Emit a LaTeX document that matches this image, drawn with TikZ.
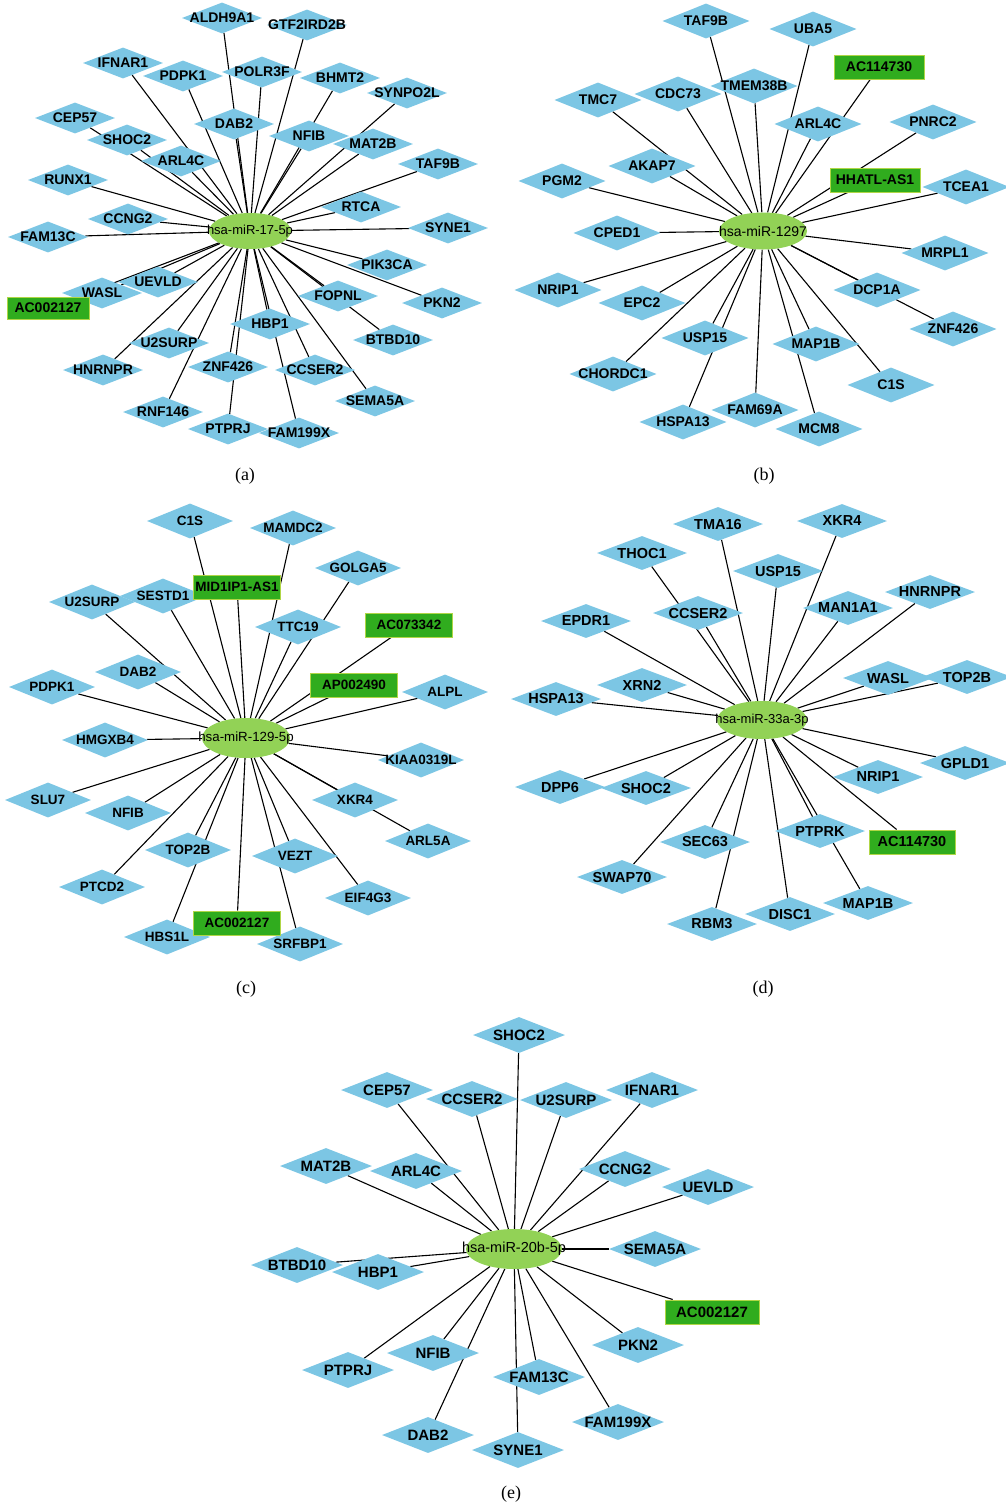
\documentclass[tikz,border=0pt]{standalone}
\usepackage{fontspec}
\setmainfont{Liberation Serif}
\setsansfont{Liberation Sans}
\usepackage{xcolor}
\usepackage{tikz}
\definecolor{genefill}{RGB}{124,198,228}
\definecolor{mirfill}{RGB}{146,210,86}
\definecolor{lncfill}{RGB}{48,172,30}
\definecolor{lncline}{RGB}{176,214,70}
\usetikzlibrary{shapes.geometric, backgrounds}

\begin{document}
\begin{tikzpicture}[
  x=1pt, y=-1pt,
  gene/.style={diamond, fill=genefill, inner sep=0pt, minimum width=80pt, minimum height=31pt,
    font=\sffamily\bfseries\fontsize{14}{14}\selectfont,
    execute at begin node={\hbox to 0pt\bgroup\hss}, execute at end node={\hss\egroup}},
  lnc/.style={rectangle, fill=lncfill, draw=lncline, line width=1pt, minimum width=82pt, minimum height=22pt,
    inner sep=1pt, font=\sffamily\bfseries\fontsize{14}{14}\selectfont},
  mir/.style={ellipse, fill=mirfill, inner sep=0pt, minimum width=82pt, minimum height=36pt,
    font=\sffamily\fontsize{13}{13}\selectfont,
    execute at begin node={\hbox to 0pt\bgroup\hss}, execute at end node={\hss\egroup}},
  link/.style={draw=black, line width=1.1pt},
  panellabel/.style={font=\rmfamily\fontsize{18}{18}\selectfont}
]
  \useasboundingbox (0,0) rectangle (1006,1508);

  % Panel (a): hsa-miR-17-5p
  \node[mir] (a-mir) at (250,231) {hsa-miR-17-5p};
  \node[gene] (a-aldh9a1)  at (222,18)  {ALDH9A1};
  \node[gene] (a-gtf2ird2b) at (307,25) {GTF2IRD2B};
  \node[gene] (a-ifnar1)   at (123,63)  {IFNAR1};
  \node[gene] (a-pdpk1)    at (183,76)  {PDPK1};
  \node[gene] (a-polr3f)   at (262,72)  {POLR3F};
  \node[gene] (a-bhmt2)    at (340,78)  {BHMT2};
  \node[gene] (a-synpo2l)  at (407,93)  {SYNPO2L};
  \node[gene] (a-cep57)    at (75,118)  {CEP57};
  \node[gene] (a-dab2)     at (234,124) {DAB2};
  \node[gene] (a-nfib)     at (309,136) {NFIB};
  \node[gene] (a-shoc2)    at (127,140) {SHOC2};
  \node[gene] (a-mat2b)    at (373,144) {MAT2B};
  \node[gene] (a-arl4c)    at (181,161) {ARL4C};
  \node[gene] (a-taf9b)    at (438,164) {TAF9B};
  \node[gene] (a-runx1)    at (68,180)  {RUNX1};
  \node[gene] (a-rtca)     at (361,207) {RTCA};
  \node[gene] (a-ccng2)    at (128,219) {CCNG2};
  \node[gene] (a-syne1)    at (448,228) {SYNE1};
  \node[gene] (a-fam13c)   at (48,237)  {FAM13C};
  \node[gene] (a-pik3ca)   at (387,265) {PIK3CA};
  \node[gene] (a-uevld)    at (158,282) {UEVLD};
  \node[gene] (a-wasl)     at (102,293) {WASL};
  \node[gene] (a-fopnl)    at (338,296) {FOPNL};
  \node[gene] (a-pkn2)     at (442,303) {PKN2};
  \node[gene] (a-hbp1)     at (270,324) {HBP1};
  \node[gene] (a-btbd10)   at (393,340) {BTBD10};
  \node[gene] (a-u2surp)   at (169,343) {U2SURP};
  \node[gene] (a-hnrnpr)   at (103,370) {HNRNPR};
  \node[gene] (a-znf426)   at (228,367) {ZNF426};
  \node[gene] (a-ccser2)   at (315,370) {CCSER2};
  \node[gene] (a-sema5a)   at (375,401) {SEMA5A};
  \node[gene] (a-rnf146)   at (163,412) {RNF146};
  \node[gene] (a-ptprj)    at (228,429) {PTPRJ};
  \node[gene] (a-fam199x)  at (299,433) {FAM199X};
  \node[lnc]  (a-ac002127) at (48,308)  {AC002127};
  \node[panellabel] (cap-a) at (245,476) {(a)};

  % Panel (b): hsa-miR-1297
  \begin{scope}[gene/.append style={minimum width=87pt, minimum height=35pt},
                lnc/.append style={minimum width=90pt, minimum height=24pt},
                mir/.append style={minimum width=88pt, minimum height=37pt, font=\sffamily\fontsize{14}{14}\selectfont}]
    \node[mir] (b-mir) at (763,231) {hsa-miR-1297};
    \node[gene] (b-taf9b)   at (706,21)  {TAF9B};
    \node[gene] (b-uba5)    at (813,29)  {UBA5};
    \node[gene] (b-tmem38b) at (754,86)  {TMEM38B};
    \node[gene] (b-cdc73)   at (678,94)  {CDC73};
    \node[gene] (b-tmc7)    at (598,100) {TMC7};
    \node[gene] (b-arl4c)   at (818,124) {ARL4C};
    \node[gene] (b-pnrc2)   at (933,122) {PNRC2};
    \node[gene] (b-akap7)   at (652,166) {AKAP7};
    \node[gene] (b-pgm2)    at (562,181) {PGM2};
    \node[gene] (b-tcea1)   at (966,187) {TCEA1};
    \node[gene] (b-cped1)   at (617,233) {CPED1};
    \node[gene] (b-mrpl1)   at (945,253) {MRPL1};
    \node[gene] (b-nrip1)   at (558,290) {NRIP1};
    \node[gene] (b-dcp1a)   at (877,290) {DCP1A};
    \node[gene] (b-epc2)    at (642,303) {EPC2};
    \node[gene] (b-znf426)  at (953,329) {ZNF426};
    \node[gene] (b-usp15)   at (705,338) {USP15};
    \node[gene] (b-map1b)   at (816,344) {MAP1B};
    \node[gene] (b-chordc1) at (613,374) {CHORDC1};
    \node[gene] (b-c1s)     at (891,385) {C1S};
    \node[gene] (b-fam69a)  at (755,410) {FAM69A};
    \node[gene] (b-hspa13)  at (683,422) {HSPA13};
    \node[gene] (b-mcm8)    at (819,429) {MCM8};
    \node[lnc]  (b-ac114730) at (879,67) {AC114730};
    \node[lnc]  (b-hhatlas1) at (875,180) {HHATL-AS1};
  \end{scope}
  \node[panellabel] (cap-b) at (764,476) {(b)};

  % Panel (c): hsa-miR-129-5p
  \begin{scope}[gene/.append style={minimum width=86pt, minimum height=35pt, font=\sffamily\bfseries\fontsize{13.5}{13.5}\selectfont},
                lnc/.append style={minimum width=87pt, minimum height=24pt, font=\sffamily\bfseries\fontsize{13.5}{13.5}\selectfont},
                mir/.append style={minimum width=88pt, minimum height=40pt, font=\sffamily\fontsize{13.3}{13.3}\selectfont}]
    \node[mir] (c-mir) at (246,738) {hsa-miR-129-5p};
    \node[gene] (c-c1s)       at (190,521) {C1S};
    \node[gene] (c-mamdc2)    at (293,528) {MAMDC2};
    \node[gene] (c-golga5)    at (358,568) {GOLGA5};
    \node[gene] (c-sestd1)    at (163,596) {SESTD1};
    \node[gene] (c-u2surp)    at (92,602)  {U2SURP};
    \node[gene] (c-ttc19)     at (298,627) {TTC19};
    \node[gene] (c-dab2)      at (138,672) {DAB2};
    \node[gene] (c-pdpk1)     at (52,687)  {PDPK1};
    \node[gene] (c-alpl)      at (445,692) {ALPL};
    \node[gene] (c-hmgxb4)    at (105,740) {HMGXB4};
    \node[gene] (c-kiaa0319l) at (421,760) {KIAA0319L};
    \node[gene] (c-slu7)      at (48,800)  {SLU7};
    \node[gene] (c-xkr4)      at (355,800) {XKR4};
    \node[gene] (c-nfib)      at (128,813) {NFIB};
    \node[gene] (c-arl5a)     at (428,841) {ARL5A};
    \node[gene] (c-top2b)     at (188,850) {TOP2B};
    \node[gene] (c-vezt)      at (295,856) {VEZT};
    \node[gene] (c-ptcd2)     at (102,887) {PTCD2};
    \node[gene] (c-eif4g3)    at (368,898) {EIF4G3};
    \node[gene] (c-hbs1l)     at (167,937) {HBS1L};
    \node[gene] (c-srfbp1)    at (300,944) {SRFBP1};
    \node[lnc]  (c-mid1ip1as1) at (237,587) {MID1IP1-AS1};
    \node[lnc]  (c-ac073342)  at (409,625) {AC073342};
    \node[lnc]  (c-ap002490)  at (354,685) {AP002490};
    \node[lnc]  (c-ac002127)  at (237,923) {AC002127};
  \end{scope}
  \node[panellabel] (cap-c) at (246,989) {(c)};

  % Panel (d): hsa-miR-33a-3p
  \begin{scope}[gene/.append style={minimum width=90pt, minimum height=34pt, font=\sffamily\bfseries\fontsize{14.5}{14.5}\selectfont},
                lnc/.append style={minimum width=86pt, minimum height=24pt, font=\sffamily\bfseries\fontsize{14.5}{14.5}\selectfont},
                mir/.append style={minimum width=90pt, minimum height=38pt}]
    \node[mir] (d-mir) at (762,720) {hsa-miR-33a-3p};
    \node[gene] (d-tma16)  at (718,524) {TMA16};
    \node[gene] (d-xkr4)   at (842,521) {XKR4};
    \node[gene] (d-thoc1)  at (642,553) {THOC1};
    \node[gene] (d-usp15)  at (778,571) {USP15};
    \node[gene] (d-hnrnpr) at (930,592) {HNRNPR};
    \node[gene] (d-man1a1) at (848,608) {MAN1A1};
    \node[gene] (d-ccser2) at (698,613) {CCSER2};
    \node[gene] (d-epdr1)  at (586,621) {EPDR1};
    \node[gene] (d-wasl)   at (888,678) {WASL};
    \node[gene] (d-top2b)  at (967,677) {TOP2B};
    \node[gene] (d-xrn2)   at (642,685) {XRN2};
    \node[gene] (d-hspa13) at (556,699) {HSPA13};
    \node[gene] (d-gpld1)  at (965,763) {GPLD1};
    \node[gene] (d-nrip1)  at (878,777) {NRIP1};
    \node[gene] (d-dpp6)   at (560,787) {DPP6};
    \node[gene] (d-shoc2)  at (646,788) {SHOC2};
    \node[gene] (d-ptprk)  at (820,831) {PTPRK};
    \node[gene] (d-sec63)  at (705,842) {SEC63};
    \node[gene] (d-swap70) at (622,877) {SWAP70};
    \node[gene] (d-map1b)  at (868,903) {MAP1B};
    \node[gene] (d-disc1)  at (790,914) {DISC1};
    \node[gene] (d-rbm3)   at (712,924) {RBM3};
    \node[lnc]  (d-ac114730) at (912,842) {AC114730};
  \end{scope}
  \node[panellabel] (cap-d) at (763,989) {(d)};

  % Panel (e): hsa-miR-20b-5p
  \begin{scope}[gene/.append style={minimum width=92pt, minimum height=36pt, font=\sffamily\bfseries\fontsize{15}{15}\selectfont},
                lnc/.append style={minimum width=94pt, minimum height=24pt, font=\sffamily\bfseries\fontsize{15}{15}\selectfont},
                mir/.append style={minimum width=96pt, minimum height=40pt, font=\sffamily\fontsize{14.5}{14.5}\selectfont}]
    \node[mir] (e-mir) at (514,1249) {hsa-miR-20b-5p};
    \node[gene] (e-shoc2)   at (519,1035) {SHOC2};
    \node[gene] (e-cep57)   at (387,1090) {CEP57};
    \node[gene] (e-ifnar1)  at (652,1090) {IFNAR1};
    \node[gene] (e-ccser2)  at (472,1099) {CCSER2};
    \node[gene] (e-u2surp)  at (566,1100) {U2SURP};
    \node[gene] (e-mat2b)   at (326,1166) {MAT2B};
    \node[gene] (e-arl4c)   at (416,1171) {ARL4C};
    \node[gene] (e-ccng2)   at (625,1169) {CCNG2};
    \node[gene] (e-uevld)   at (708,1187) {UEVLD};
    \node[gene] (e-sema5a)  at (655,1249) {SEMA5A};
    \node[gene] (e-btbd10)  at (297,1265) {BTBD10};
    \node[gene] (e-hbp1)    at (378,1272) {HBP1};
    \node[gene] (e-pkn2)    at (638,1345) {PKN2};
    \node[gene] (e-nfib)    at (433,1353) {NFIB};
    \node[gene] (e-ptprj)   at (348,1370) {PTPRJ};
    \node[gene] (e-fam13c)  at (539,1377) {FAM13C};
    \node[gene] (e-fam199x) at (618,1422) {FAM199X};
    \node[gene] (e-dab2)    at (428,1435) {DAB2};
    \node[gene] (e-syne1)   at (518,1450) {SYNE1};
    \node[lnc]  (e-ac002127) at (712,1312) {AC002127};
  \end{scope}
  \node[panellabel] (cap-e) at (511,1494) {(e)};

  % Links, drawn under the nodes
  \begin{scope}[on background layer]
    \fill[white] (0,0) rectangle (1006,1508);
    \foreach \g in {aldh9a1, gtf2ird2b, ifnar1, pdpk1, polr3f, bhmt2, synpo2l, cep57, dab2, nfib,
                    shoc2, mat2b, arl4c, taf9b, runx1, rtca, ccng2, syne1, fam13c, pik3ca, uevld, wasl,
                    fopnl, pkn2, hbp1, btbd10, u2surp, hnrnpr, znf426, ccser2, sema5a, rnf146, ptprj,
                    fam199x, ac002127}
      \draw[link] (a-mir) -- (a-\g);
    \foreach \g in {taf9b, uba5, tmem38b, cdc73, tmc7, arl4c, pnrc2, akap7, pgm2, tcea1, cped1, mrpl1,
                    nrip1, dcp1a, epc2, znf426, usp15, map1b, chordc1, c1s, fam69a, hspa13, mcm8,
                    ac114730, hhatlas1}
      \draw[link] (b-mir) -- (b-\g);
    \foreach \g in {c1s, mamdc2, golga5, sestd1, u2surp, ttc19, dab2, pdpk1, alpl, hmgxb4, kiaa0319l,
                    slu7, xkr4, nfib, arl5a, top2b, vezt, ptcd2, eif4g3, hbs1l, srfbp1, mid1ip1as1,
                    ac073342, ap002490, ac002127}
      \draw[link] (c-mir) -- (c-\g);
    \foreach \g in {tma16, xkr4, thoc1, usp15, hnrnpr, man1a1, ccser2, epdr1, wasl, top2b, xrn2, hspa13,
                    gpld1, nrip1, dpp6, shoc2, ptprk, sec63, swap70, map1b, disc1, rbm3, ac114730}
      \draw[link] (d-mir) -- (d-\g);
    \foreach \g in {shoc2, cep57, ifnar1, ccser2, u2surp, mat2b, arl4c, ccng2, uevld, sema5a, btbd10,
                    hbp1, pkn2, nfib, ptprj, fam13c, fam199x, dab2, syne1, ac002127}
      \draw[link] (e-mir) -- (e-\g);
  \end{scope}
\end{tikzpicture}
\end{document}
